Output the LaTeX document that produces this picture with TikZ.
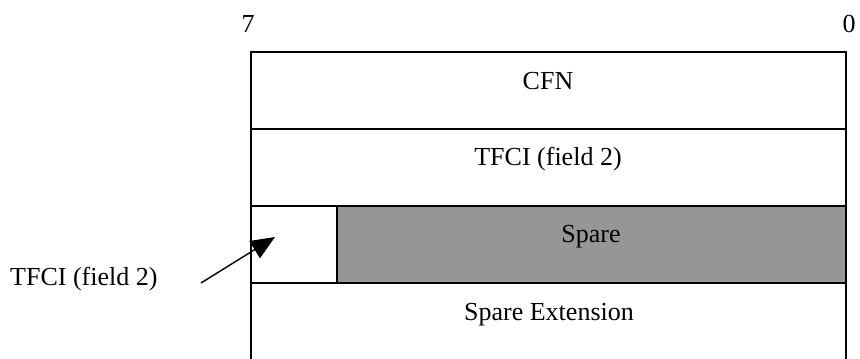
\documentclass[tikz,border=0pt]{standalone}
\usepackage{fontspec}
\setmainfont{Liberation Serif}
\usetikzlibrary{arrows.meta}
\definecolor{sparegray}{RGB}{150,150,150}
\begin{document}
\begin{tikzpicture}[x=1pt,y=-1pt,
  rowbox/.style={draw=black,line width=1.4pt,inner sep=0pt,outer sep=0pt,anchor=north west},
  lbl/.style={font=\fontsize{26}{30}\selectfont,inner sep=0pt,anchor=base},
  ptr/.style={line width=1.4pt,-{Triangle[length=24pt,width=20pt]}}]
\useasboundingbox (0,0) rectangle (860,359);
\node[lbl] (b7) at (248,32) {7};
\node[lbl] (b0) at (849,32) {0};
\node[rowbox,minimum width=595pt,minimum height=77pt] (r1) at (251,52) {};
\node[rowbox,minimum width=595pt,minimum height=77pt] (r2) at (251,129) {};
\node[rowbox,minimum width=86pt,minimum height=77pt] (r3a) at (251,206) {};
\node[rowbox,fill=sparegray,minimum width=509pt,minimum height=77pt] (r3b) at (337,206) {};
\node[rowbox,minimum width=595pt,minimum height=90pt] (r4) at (251,283) {};
\node[lbl] (t1) at (548,89) {CFN};
\node[lbl] (t2) at (548,165) {TFCI (field 2)};
\node[lbl] (t3) at (591,242) {Spare};
\node[lbl] (t4) at (549,320) {Spare Extension};
\node[lbl,anchor=base west] (side) at (10,285) {TFCI (field 2)};
\coordinate (ps) at (201,283);
\coordinate (pe) at (275,237);
\draw[ptr] (ps) -- (pe);
\end{tikzpicture}
\end{document}
